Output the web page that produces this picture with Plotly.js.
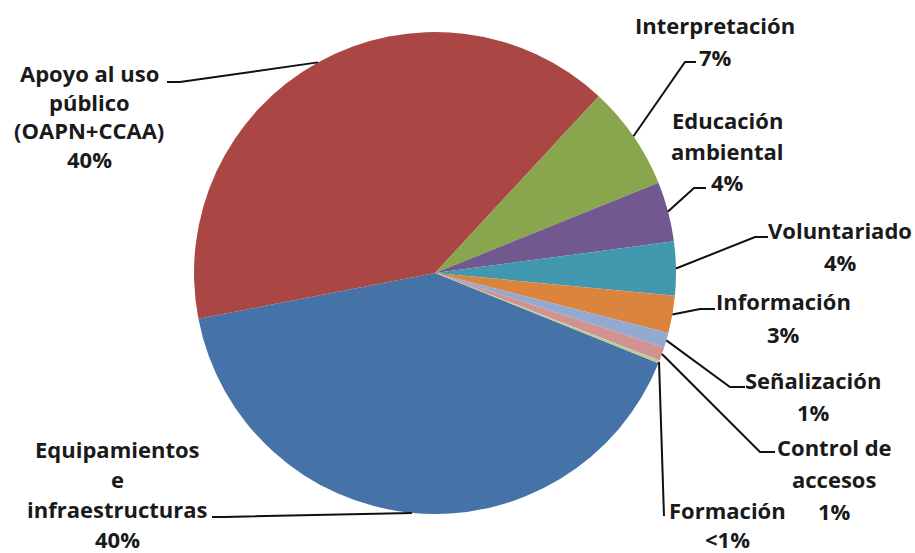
<!DOCTYPE html>
<html>
<head>
<meta charset="utf-8">
<script src="https://cdn.plot.ly/plotly-3.0.1.min.js"></script>
<style>
  html, body { margin: 0; padding: 0; background: #ffffff; }
  #chart { width: 915px; height: 553px; }
</style>
</head>
<body>
<div id="chart"></div>
<script>
// ---- data ----
const categories = [
  'Equipamientos e infraestructuras',
  'Apoyo al uso público (OAPN+CCAA)',
  'Interpretación',
  'Educación ambiental',
  'Voluntariado',
  'Información',
  'Señalización',
  'Control de accesos',
  'Formación'
];
const shares = [40.8, 39.9, 7.0, 4.0, 3.6, 2.5, 1.0, 0.9, 0.2];
const pctLabels = ['40%', '40%', '7%', '4%', '4%', '3%', '1%', '1%', '<1%'];
const labelLines = [
  ['Equipamientos', 'e', 'infraestructuras'],
  ['Apoyo al uso', 'público', '(OAPN+CCAA)'],
  ['Interpretación'],
  ['Educación', 'ambiental'],
  ['Voluntariado'],
  ['Información'],
  ['Señalización'],
  ['Control de', 'accesos'],
  ['Formación']
];

// ---- styles / layout constants ----
const colors = ['#4572A7', '#AA4643', '#89A54E', '#71588F', '#4198AF', '#DB843D', '#93A9CF', '#D19392', '#B9CD96'];
const W = 915, H = 553;
const CX = 435, CY = 273, R = 241;
const ROTATION = 112;
const FONT = { family: '"Open Sans", "Noto Sans", sans-serif', size: 22, color: '#1a1a1a', weight: 'bold' };

// label placement: center x, first line center y, line gap, leader polyline (label end first; pie anchor appended)
const labelPos = [
  { x: 118, y: 449, gap: 30, leader: [[212, 517], [224, 517]] },
  { x: 89,  y: 73,  gap: 28.6, leader: [[167, 82], [180, 82]] },
  { x: 715, y: 25,  gap: 32, leader: [[696, 62], [685, 62]] },
  { x: 727, y: 120, gap: 31, leader: [[706, 188], [694, 188]] },
  { x: 840, y: 230, gap: 32, leader: [[768, 237], [755, 237]] },
  { x: 783, y: 301, gap: 33, leader: [[715, 309], [700, 309]] },
  { x: 813, y: 380, gap: 32, leader: [[745, 387], [730, 387]] },
  { x: 834, y: 447, gap: 32, leader: [[775, 452], [760, 452]] },
  { x: 727, y: 510, gap: 29, leader: [[664, 516]] }
];

const px2x = (px) => px / W;
const py2y = (py) => 1 - py / H;

// anchor points on the pie edge at each slice's mid angle (Plotly convention: clockwise from 12 o'clock)
const total = shares.reduce((a, b) => a + b, 0);
let cum = 0;
const anchors = shares.map((v) => {
  const midDeg = ROTATION + (cum + v / 2) / total * 360;
  cum += v;
  const a = midDeg * Math.PI / 180;
  return [CX + R * Math.sin(a), CY - R * Math.cos(a)];
});

const annotations = [];
const shapes = [];
categories.forEach((cat, i) => {
  const p = labelPos[i];
  const lines = labelLines[i].concat([pctLabels[i]]);
  lines.forEach((t, k) => {
    annotations.push({
      xref: 'paper', yref: 'paper',
      x: px2x(p.x), y: py2y(p.y + k * p.gap),
      xanchor: 'center', yanchor: 'middle',
      text: t, showarrow: false, font: FONT
    });
  });
  const pts = p.leader.concat([anchors[i]]);
  const path = pts.map((q, k) => (k === 0 ? 'M ' : 'L ') + px2x(q[0]).toFixed(5) + ' ' + py2y(q[1]).toFixed(5)).join(' ');
  shapes.push({
    type: 'path', xref: 'paper', yref: 'paper', path: path,
    line: { color: '#111111', width: 2 }
  });
});

const trace = {
  type: 'pie',
  labels: categories,
  values: shares,
  sort: false,
  direction: 'clockwise',
  rotation: ROTATION,
  marker: { colors: colors, line: { width: 0 } },
  textinfo: 'none',
  hoverinfo: 'label+percent',
  showlegend: false,
  domain: {
    x: [px2x(CX - R), px2x(CX + R)],
    y: [py2y(CY + R), py2y(CY - R)]
  }
};

const layout = {
  width: W, height: H,
  margin: { l: 0, r: 0, t: 0, b: 0 },
  paper_bgcolor: '#ffffff',
  plot_bgcolor: '#ffffff',
  showlegend: false,
  annotations: annotations,
  shapes: shapes
};

Plotly.newPlot('chart', [trace], layout, { displayModeBar: false, staticPlot: true });
</script>
</body>
</html>
